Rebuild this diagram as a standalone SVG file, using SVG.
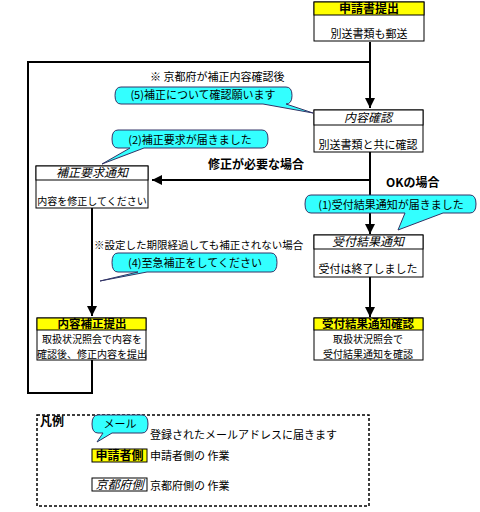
<svg xmlns="http://www.w3.org/2000/svg" width="480" height="512" viewBox="0 0 480 512">
<defs>
<marker id="ah" viewBox="0 0 10 10" refX="10" refY="5" markerWidth="10" markerHeight="10" markerUnits="userSpaceOnUse" orient="auto">
<path d="M0,0 L10,5 L0,10 Z" fill="#000"/>
</marker>
</defs>
<style>
text{font-family:"Noto Sans CJK JP","Noto Sans",sans-serif;fill:#000}
.box{fill:#fff;stroke:#000;stroke-width:1}
.hy{fill:#ffff00;stroke:#000;stroke-width:1}
.hw{fill:#fff;stroke:#000;stroke-width:1}
.hb{font-size:12px;font-weight:bold}
.hbs{font-size:11.5px;font-weight:bold}
.hi{font-size:12px;font-style:italic}
.t{font-size:11px}
.s{font-size:10px}
.b{font-size:12px;font-weight:bold}
.call{fill:#33ffff;stroke:#336;stroke-width:1}
.ln{fill:none;stroke:#000;stroke-width:2}
.mid{text-anchor:middle}
</style>
<rect width="480" height="512" fill="#fff"/>
<g id="connectors">
<path class="ln" d="M370,42 V108" marker-end="url(#ah)"/>
<path class="ln" d="M92,360 V393 H28 V62 H370"/>
<path class="ln" d="M370,180 H152" marker-end="url(#ah)"/>
<path class="ln" d="M370,152 V234" marker-end="url(#ah)"/>
<path class="ln" d="M92,208 V316" marker-end="url(#ah)"/>
<path class="ln" d="M370,277 V317" marker-end="url(#ah)"/>
<text class="b" x="208" y="169">修正が必要な場合</text>
<text class="b" x="386" y="187">OKの場合</text>
<text class="t" x="150" y="81">※ 京都府が補正内容確認後</text>
<text class="t" x="94" y="249" style="font-size:10.5px">※設定した期限経過しても補正されない場合</text>
</g>
<g id="n-shinsei">
<rect class="box" x="314" y="2" width="110" height="39"/>
<rect class="hy" x="314" y="2" width="110" height="13"/>
<text class="hb mid" x="369" y="13">申請書提出</text>
<text class="t mid" x="369" y="38">別送書類も郵送</text>
</g>
<g id="n-naiyou">
<rect class="box" x="314" y="110" width="109" height="42"/>
<rect class="hw" x="314" y="110" width="109" height="15"/>
<text class="hi mid" x="368" y="122">内容確認</text>
<text class="t mid" x="368" y="149">別送書類と共に確認</text>
</g>
<g id="n-hosei-yokyu">
<rect class="box" x="36" y="166" width="112" height="42"/>
<rect class="hw" x="36" y="166" width="112" height="14"/>
<text class="hi mid" x="92" y="177">補正要求通知</text>
<text class="s mid" x="92" y="205">内容を修正してください</text>
</g>
<g id="n-uketsuke">
<rect class="box" x="314" y="235" width="109" height="42"/>
<rect class="hw" x="314" y="235" width="109" height="14"/>
<text class="hi mid" x="368" y="246">受付結果通知</text>
<text class="t mid" x="368" y="273">受付は終了しました</text>
</g>
<g id="n-hosei-teishutsu">
<rect class="box" x="37" y="318" width="109" height="42"/>
<rect class="hy" x="37" y="318" width="109" height="12"/>
<text class="hbs mid" x="92" y="328">内容補正提出</text>
<text class="s mid" x="92" y="343">取扱状況照会で内容を</text>
<text class="s mid" x="92" y="357.5">確認後、修正内容を提出</text>
</g>
<g id="n-uketsuke-kakunin">
<rect class="box" x="314" y="318" width="109" height="42"/>
<rect class="hy" x="314" y="318" width="109" height="12"/>
<text class="hbs mid" x="368" y="328">受付結果通知確認</text>
<text class="s mid" x="368" y="343">取扱状況照会で</text>
<text class="s mid" x="368" y="357.5">受付結果通知を確認</text>
</g>
<g id="c5">
<path class="call" d="M121,87 H286 Q292,87 292,95.5 Q292,104 286,104 H286 L313,113 L263,104 H121 Q115,104 115,95.5 Q115,87 121,87 Z"/>
<text class="t mid" x="203" y="99">(5)補正について確認願います</text>
</g>
<g id="c2">
<path class="call" d="M118,130 H262 Q268,130 268,139 Q268,148 262,148 H144 L102,164 L130,148 H118 Q112,148 112,139 Q112,130 118,130 Z"/>
<text class="t mid" x="190" y="144">(2)補正要求が届きました</text>
</g>
<g id="c1">
<path class="call" d="M311,195 H470 Q476,195 476,204 Q476,213 470,213 H443 L398,230 L405,213 H311 Q305,213 305,204 Q305,195 311,195 Z"/>
<text class="t mid" x="391" y="209">(1)受付結果通知が届きました</text>
</g>
<g id="c4">
<path class="call" d="M118,253 H271 Q277,253 277,262.5 Q277,272 271,272 H147 L100,281 L138,272 H118 Q112,272 112,262.5 Q112,253 118,253 Z"/>
<text class="t mid" x="195" y="267">(4)至急補正をしてください</text>
</g>
<g id="legend">
<rect x="37" y="415" width="332" height="91" fill="none" stroke="#000" stroke-width="1.5" stroke-dasharray="3,2"/>
<text class="b" x="40" y="426">凡例</text>
<path class="call" d="M98,415 H142 Q148,415 148,424 Q148,433 142,433 H112 L97,442 L103,433 H98 Q92,433 92,424 Q92,415 98,415 Z"/>
<text class="t mid" x="120" y="428">メール</text>
<text class="t" x="150" y="439">登録されたメールアドレスに届きます</text>
<rect class="hy" x="92" y="449" width="55" height="13"/>
<text class="hb mid" x="119.5" y="460">申請者側</text>
<text class="t" x="150" y="460">申請者側の 作業</text>
<rect class="hw" x="92" y="478" width="55" height="13"/>
<text class="hi mid" x="119.5" y="489">京都府側</text>
<text class="t" x="150" y="490">京都府側の 作業</text>
</g>
</svg>
